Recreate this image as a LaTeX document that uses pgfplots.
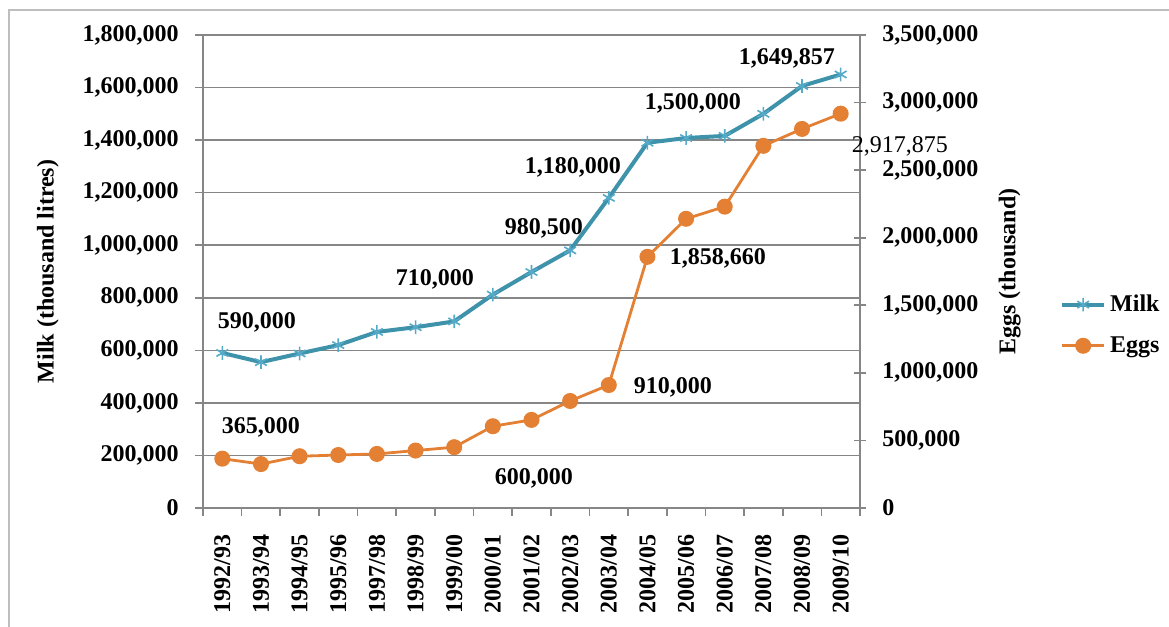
\documentclass[border=0pt]{standalone}
\usepackage{fontspec}
\setmainfont{Liberation Serif}
\usepackage{pgfplots}
\pgfplotsset{compat=1.18}
\definecolor{milk}{RGB}{62,146,170}
\definecolor{milkmark}{RGB}{85,170,200}
\definecolor{eggs}{RGB}{228,128,52}
\definecolor{gridc}{RGB}{134,134,134}
\definecolor{framec}{RGB}{190,190,190}
\newcommand{\lf}{\bfseries\fontsize{12}{14}\selectfont}
\pgfplotstableread{
x y
0 590000
1 555000
2 588000
3 620000
4 670000
5 688000
6 710000
7 812000
8 898000
9 980500
10 1180000
11 1390000
12 1408000
13 1416000
14 1500000
15 1606000
16 1649857
}\milkdata
\pgfplotstableread{
x y
0 365000
1 325000
2 383000
3 392000
4 400000
5 425000
6 450000
7 605000
8 652000
9 792000
10 910000
11 1858660
12 2140000
13 2230000
14 2680000
15 2805000
16 2917875
}\eggsdata
\begin{document}
\begin{tikzpicture}
\useasboundingbox (0,0) rectangle (584.5pt,313.5pt);
\draw[framec, line width=0.8pt] (4.5pt,0) -- (4.5pt,308.5pt) -- (584.5pt,308.5pt);
\begin{axis}[
  at={(101.5pt,59.5pt)}, anchor=south west,
  scale only axis, width=328.5pt, height=236.5pt,
  xmin=-0.5, xmax=16.5, ymin=0, ymax=1800000,
  axis x line*=bottom, axis y line*=left,
  axis line style={gridc, line width=0.8pt},
  tick style={gridc, line width=0.8pt},
  tick align=outside, major tick length=4pt,
  xtick={-0.5,0.5,...,16.5}, xticklabels={},
  extra x ticks={0,1,...,16},
  extra x tick labels={1992/93,1993/94,1994/95,1995/96,1997/98,1998/99,1999/00,2000/01,2001/02,2002/03,2003/04,2004/05,2005/06,2006/07,2007/08,2008/09,2009/10},
  extra x tick style={major tick length=0pt},
  xticklabel style={yshift=-13pt, rotate=90, anchor=east, inner sep=0pt, font=\bfseries\fontsize{12}{14}\selectfont},
  ytick={0,200000,400000,600000,800000,1000000,1200000,1400000,1600000,1800000},
  scaled y ticks=false,
  yticklabel style={/pgf/number format/.cd, fixed, 1000 sep={,}, assume math mode=true, /tikz/.cd, font=\lf, inner sep=0pt, xshift=-8pt},
  ymajorgrids, grid style={gridc, line width=0.8pt},
  ylabel={Milk (thousand litres)},
  ylabel style={at={(axis description cs:-0.236,0.5)}, anchor=center, font=\lf},
  clip=false,
]
\addplot[milk, line width=2pt, mark=asterisk, mark size=3.4pt, mark options={milkmark, line width=0.8pt}] table[x=x,y=y] {\milkdata};
\node[font=\lf] at (axis cs:0.897,707800) {590,000};
\node[font=\lf] at (axis cs:5.503,871500) {710,000};
\node[font=\lf] at (axis cs:8.323,1065500) {980,500};
\node[font=\lf] at (axis cs:9.073,1297700) {1,180,000};
\node[font=\lf] at (axis cs:12.178,1541200) {1,500,000};
\node[font=\lf] at (axis cs:14.61,1712500) {1,649,857};
\end{axis}
\begin{axis}[
  at={(101.5pt,59.5pt)}, anchor=south west,
  scale only axis, width=328.5pt, height=236.5pt,
  xmin=-0.5, xmax=16.5, ymin=0, ymax=3500000,
  axis x line=none, axis y line*=right,
  axis line style={gridc, line width=0.8pt},
  tick style={gridc, line width=0.8pt},
  tick align=center, major tick length=6pt,
  ytick={0,500000,1000000,1500000,2000000,2500000,3000000,3500000},
  scaled y ticks=false,
  yticklabel style={/pgf/number format/.cd, fixed, 1000 sep={,}, assume math mode=true, /tikz/.cd, font=\lf, inner sep=0pt, xshift=8pt},
  ylabel={Eggs (thousand)},
  ylabel style={at={(axis description cs:1.228,0.5)}, anchor=center, font=\lf},
  clip=false,
  legend style={at={(axis description cs:1.304,0.387)}, anchor=west, draw=none, fill=none, inner sep=0pt, font=\lf, row sep=7pt},
  legend cell align=left,
  legend image code/.code={\draw[mark repeat=2,mark phase=2] plot coordinates {(0cm,0cm) (0.37cm,0cm) (0.74cm,0cm)};},
]
\addlegendimage{milk, line width=2pt, mark=asterisk, mark size=3.4pt, mark options={milkmark, line width=0.8pt}}
\addlegendentry{Milk}
\addplot[eggs, line width=1.4pt, mark=*, mark size=3.3pt, mark options={eggs, fill=eggs}] table[x=x,y=y] {\eggsdata};
\addlegendentry{Eggs}
\node[font=\lf] at (axis cs:1.0,599400) {365,000};
\node[font=\lf] at (axis cs:8.064,222000) {600,000};
\node[font=\lf] at (axis cs:11.66,895300) {910,000};
\node[font=\lf] at (axis cs:12.825,1850000) {1,858,660};
\node[font=\fontsize{12}{14}\selectfont] at (axis cs:17.53,2678600) {2,917,875};
\end{axis}
\end{tikzpicture}
\end{document}
